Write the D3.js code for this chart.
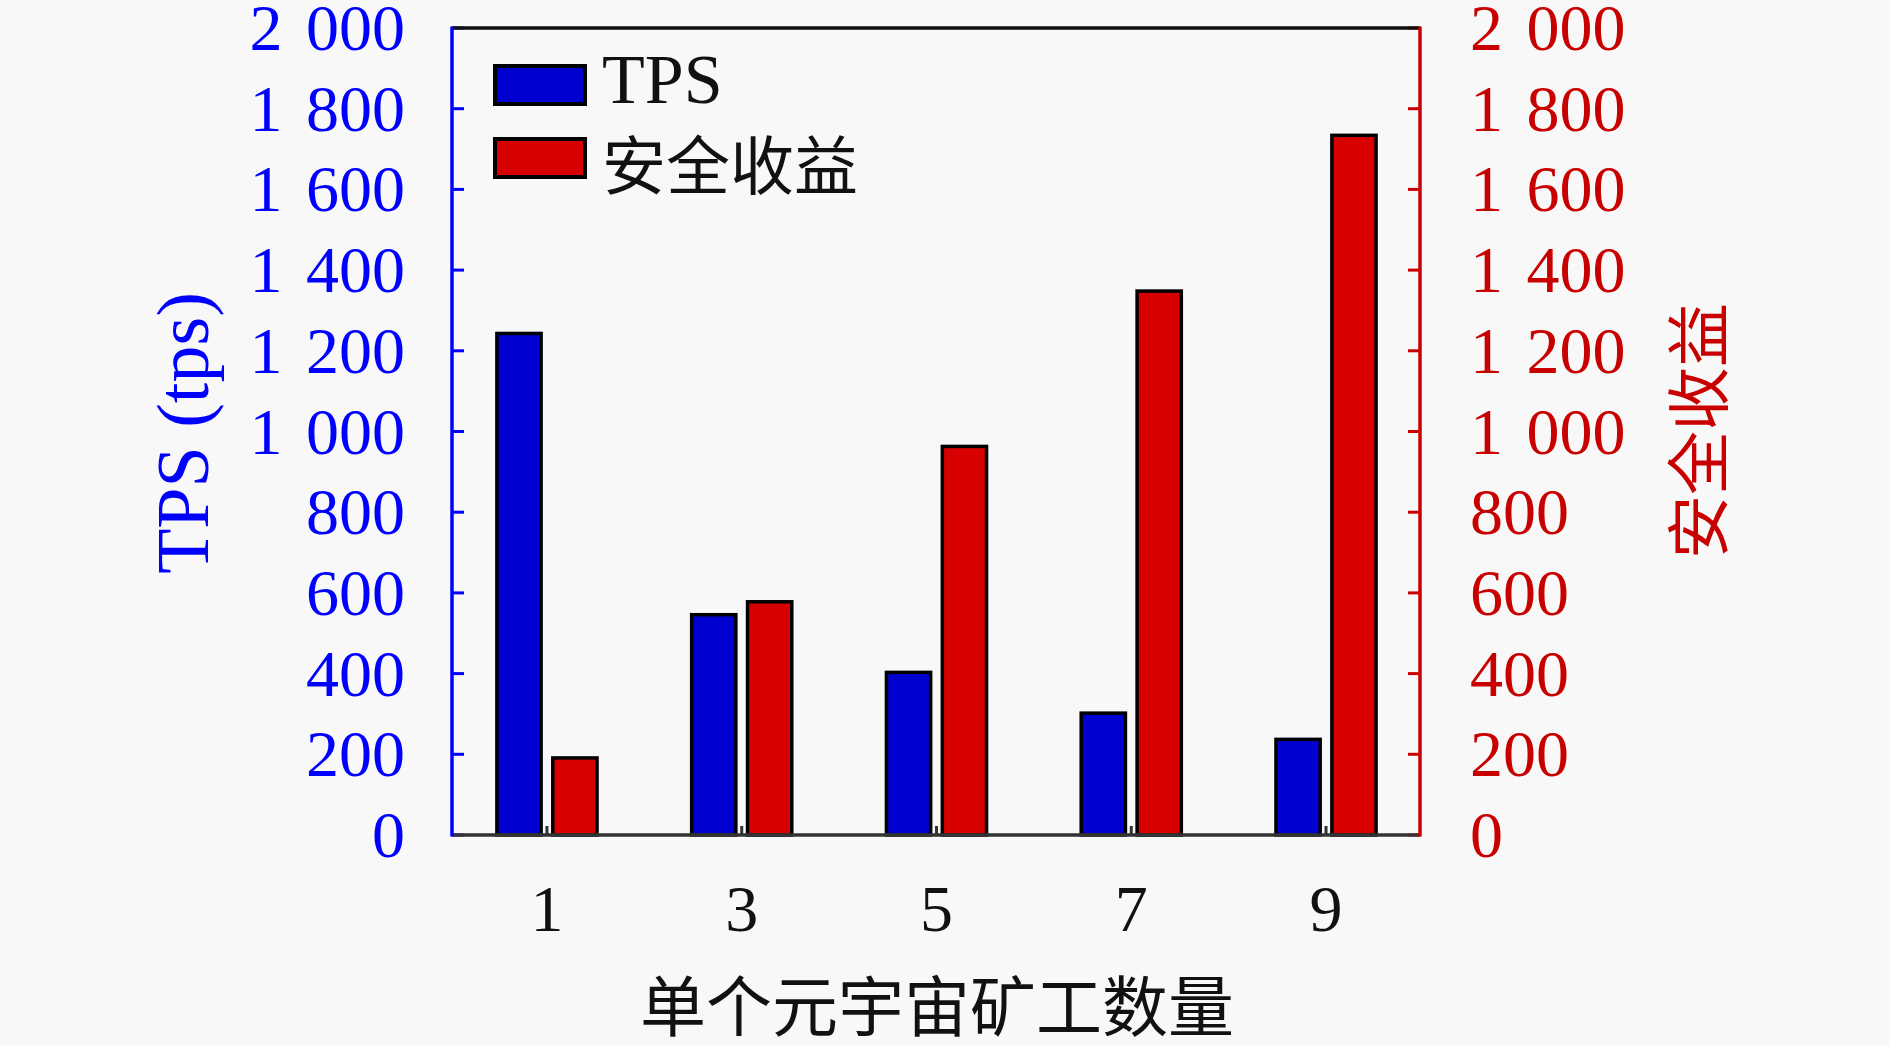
<!DOCTYPE html>
<meta charset="utf-8">
<style>
body { margin: 0; background: #f8f8f8; }
svg { display: block; }
.lat { font-family: "Liberation Serif", "DejaVu Serif", serif; }
.cjk { font-family: "Noto Sans CJK SC", sans-serif; }
</style>
<body>
<div id="chart"></div>
<script src="https://d3js.org/d3.v7.min.js"></script>
<script>
// data
var miners = [1, 3, 5, 7, 9];
var tps = [1243, 546, 403, 302, 237];
var security = [191, 578, 963, 1348, 1734];
var yTicks = [0, 200, 400, 600, 800, 1000, 1200, 1400, 1600, 1800, 2000];
var seriesNames = ["TPS", "安全收益"];

var width = 1890, height = 1046;
var plotLeft = 452, plotRight = 1420, plotTop = 28, plotBottom = 835;

var blueFill = "#0000d0", redFill = "#d80000";
var blueText = "#0000ff", redText = "#c80000";

var svg = d3.select("#chart").append("svg")
    .attr("width", width)
    .attr("height", height);

var x = d3.scaleLinear().domain([0.025, 9.965]).range([plotLeft, plotRight]);
var yL = d3.scaleLinear().domain([0, 2000]).range([plotBottom, plotTop]);
var yR = d3.scaleLinear().domain([0, 2000]).range([plotBottom, plotTop]);

// bar geometry in x units
var barW = 0.49, off = 0.287;
var bw = x(barW) - x(0);

function drawBars(values, scale, dx, fill) {
  svg.append("g").selectAll("rect")
      .data(values)
    .enter().append("rect")
      .attr("x", function(d, i) { return x(miners[i] + dx) - bw / 2 + 1.75; })
      .attr("y", function(d) { return scale(d); })
      .attr("width", bw - 3.5)
      .attr("height", function(d) { return scale(0) - scale(d); })
      .attr("fill", fill)
      .attr("stroke", "#000")
      .attr("stroke-width", 3.5);
}
drawBars(tps, yL, -off, blueFill);
drawBars(security, yR, off, redFill);

// x ticks (inward) and labels
svg.append("g").selectAll("line")
    .data(miners)
  .enter().append("line")
    .attr("x1", function(d) { return x(d); })
    .attr("x2", function(d) { return x(d); })
    .attr("y1", plotBottom)
    .attr("y2", plotBottom - 9)
    .attr("stroke", "#333")
    .attr("stroke-width", 3);

svg.append("g").selectAll("text")
    .data(miners)
  .enter().append("text")
    .attr("class", "lat")
    .attr("x", function(d) { return x(d); })
    .attr("y", 931)
    .attr("text-anchor", "middle")
    .attr("font-size", 66)
    .attr("fill", "#111")
    .text(function(d) { return d; });

// thousands split with a slightly wider gap, like "1 200"
function tickText(sel) {
  sel.each(function(v) {
    var t = d3.select(this);
    if (v >= 1000) {
      t.append("tspan").text(Math.floor(v / 1000));
      t.append("tspan").attr("dx", 7).text(" " + d3.format("03d")(v % 1000));
    } else {
      t.text(v);
    }
  });
}

// left axis
var gl = svg.append("g");
gl.selectAll("line")
    .data(yTicks)
  .enter().append("line")
    .attr("x1", plotLeft).attr("x2", plotLeft + 12)
    .attr("y1", function(d) { return yL(d); })
    .attr("y2", function(d) { return yL(d); })
    .attr("stroke", blueText).attr("stroke-width", 3);
gl.selectAll("text")
    .data(yTicks)
  .enter().append("text")
    .attr("class", "lat")
    .attr("x", 405)
    .attr("y", function(d) { return yL(d) + 22; })
    .attr("text-anchor", "end")
    .attr("font-size", 66)
    .attr("fill", blueText)
    .call(tickText);

// right axis
var gr = svg.append("g");
gr.selectAll("line")
    .data(yTicks)
  .enter().append("line")
    .attr("x1", plotRight).attr("x2", plotRight - 12)
    .attr("y1", function(d) { return yR(d); })
    .attr("y2", function(d) { return yR(d); })
    .attr("stroke", redText).attr("stroke-width", 3);
gr.selectAll("text")
    .data(yTicks)
  .enter().append("text")
    .attr("class", "lat")
    .attr("x", 1470)
    .attr("y", function(d) { return yR(d) + 22; })
    .attr("text-anchor", "start")
    .attr("font-size", 66)
    .attr("fill", redText)
    .call(tickText);

// frame
svg.append("line").attr("x1", plotLeft).attr("x2", plotRight).attr("y1", plotTop).attr("y2", plotTop)
    .attr("stroke", "#111").attr("stroke-width", 3.5);
svg.append("line").attr("x1", plotLeft).attr("x2", plotRight).attr("y1", plotBottom).attr("y2", plotBottom)
    .attr("stroke", "#333").attr("stroke-width", 3.5);
svg.append("line").attr("x1", plotLeft).attr("x2", plotLeft).attr("y1", plotTop - 1.5).attr("y2", plotBottom + 1.5)
    .attr("stroke", blueText).attr("stroke-width", 3.5);
svg.append("line").attr("x1", plotRight).attr("x2", plotRight).attr("y1", plotTop - 1.5).attr("y2", plotBottom + 1.5)
    .attr("stroke", redText).attr("stroke-width", 3.5);

// axis titles
svg.append("text")
    .attr("class", "lat")
    .attr("transform", "translate(208,433) rotate(-90)")
    .attr("text-anchor", "middle")
    .attr("font-size", 74)
    .attr("fill", blueText)
    .text("TPS (tps)");

svg.append("text")
    .attr("class", "cjk")
    .attr("transform", "translate(1722,431) rotate(-90)")
    .attr("text-anchor", "middle")
    .attr("font-size", 64)
    .attr("fill", redText)
    .text("安全收益");

svg.append("text")
    .attr("class", "cjk")
    .attr("x", 937)
    .attr("y", 1031)
    .attr("text-anchor", "middle")
    .attr("font-size", 66)
    .attr("fill", "#111")
    .text("单个元宇宙矿工数量");

// legend
var legend = svg.append("g").selectAll("g")
    .data(seriesNames)
  .enter().append("g")
    .attr("transform", function(d, i) { return "translate(495," + (66 + i * 73) + ")"; });
legend.append("rect")
    .attr("width", 90).attr("height", 38)
    .attr("fill", function(d, i) { return i ? redFill : blueFill; })
    .attr("stroke", "#000").attr("stroke-width", 4);
legend.append("text")
    .attr("class", function(d, i) { return i ? "cjk" : "lat"; })
    .attr("x", 107)
    .attr("y", function(d, i) { return i ? 50 : 37; })
    .attr("font-size", function(d, i) { return i ? 64 : 70; })
    .attr("fill", "#111")
    .text(function(d) { return d; });
</script>
</body>
